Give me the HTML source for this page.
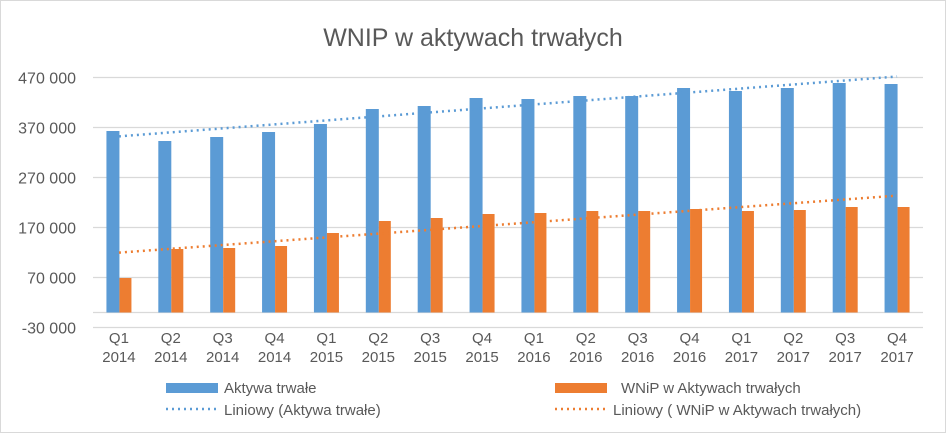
<!DOCTYPE html>
<html><head><meta charset="utf-8"><style>
body{margin:0;background:#fff;}
svg text{font-family:"Liberation Sans",sans-serif;fill:#595959;}
</style></head><body>
<svg id="c" width="946" height="433" xmlns="http://www.w3.org/2000/svg">
<rect x="0.5" y="0.5" width="945" height="432" fill="#fff" stroke="#d9d9d9"/>
<text x="473" y="46" font-size="25" text-anchor="middle">WNIP w aktywach trwałych</text>
<g id="grid"></g><g id="bars"></g><g id="trend"></g><g id="xl"></g><g id="yl"></g>
<g>
<rect x="166" y="383" width="52" height="10" fill="#5b9bd5"/>
<text x="224" y="393" font-size="15">Aktywa trwałe</text>
<rect x="555" y="383" width="52" height="10" fill="#ed7d31"/>
<text x="621" y="393" font-size="15">WNiP w Aktywach trwałych</text>
<line x1="166" y1="409" x2="216" y2="409" stroke="#5b9bd5" stroke-width="2.5" stroke-dasharray="2 4"/>
<text x="224" y="415" font-size="15">Liniowy (Aktywa trwałe)</text>
<line x1="555" y1="409" x2="605" y2="409" stroke="#ed7d31" stroke-width="2.5" stroke-dasharray="2 4"/>
<text x="613" y="415" font-size="15">Liniowy ( WNiP w Aktywach trwałych)</text>
</g>
</svg>
<script>
const quarters=["Q1","Q2","Q3","Q4","Q1","Q2","Q3","Q4","Q1","Q2","Q3","Q4","Q1","Q2","Q3","Q4"];
const years=["2014","2014","2014","2014","2015","2015","2015","2015","2016","2016","2016","2016","2017","2017","2017","2017"];
const aktywa=[363000,343000,351000,361000,377000,407000,413000,429000,427000,433000,433000,449000,443000,449000,459000,457000];
const wnip=[69000,127000,129000,133000,159000,183000,189000,197000,199000,203000,203000,207000,203000,205000,211000,211000];
const ticks=[-30000,70000,170000,270000,370000,470000];
const tickLabels=["-30 000","70 000","170 000","270 000","370 000","470 000"];
const NS="http://www.w3.org/2000/svg";
const L=93,R=923,yMin=-30000,yMax=470000,yTop=77.5,yBot=327.5;
const cw=(R-L)/quarters.length;
function y(v){return yBot-(v-yMin)/(yMax-yMin)*(yBot-yTop);}
function xc(i){return L+cw*(i+0.5);}
function mk(t,a,p){const e=document.createElementNS(NS,t);for(const k in a)e.setAttribute(k,a[k]);document.getElementById(p).appendChild(e);return e;}
ticks.forEach((t,i)=>{
 const g=mk('line',{x1:L,x2:R,y1:y(t),y2:y(t),stroke:'#d9d9d9','stroke-width':1.3},'grid');
 
 
 const tx=mk('text',{x:76,y:y(t)+6,'font-size':16,'text-anchor':'end'},'yl');tx.textContent=tickLabels[i];
 
 
});
const ax=mk('line',{x1:L,x2:R,y1:y(0),y2:y(0),stroke:'#d9d9d9','stroke-width':1.3},'grid');


quarters.forEach((q,i)=>{
 const c=xc(i);
 const b=mk('rect',{x:c-12.5,y:y(aktywa[i]),width:13,height:y(0)-y(aktywa[i]),fill:'#5b9bd5'},'bars');
 
 
 const o=mk('rect',{x:c+0.5,y:y(wnip[i]),width:12,height:y(0)-y(wnip[i]),fill:'#ed7d31'},'bars');
 
 
 const t1=mk('text',{x:c,y:343,'font-size':15,'text-anchor':'middle'},'xl');t1.textContent=q;
 
 
 const t2=mk('text',{x:c,y:362,'font-size':15,'text-anchor':'middle'},'xl');t2.textContent=years[i];
 
 
});
function trend(arr,col,name){
 const n=arr.length;let sx=0,sy=0,sxy=0,sxx=0;
 arr.forEach((v,i)=>{sx+=i;sy+=v;sxy+=i*v;sxx+=i*i;});
 const m=(n*sxy-sx*sy)/(n*sxx-sx*sx),b=(sy-m*sx)/n;
 const l=mk('line',{x1:xc(0),y1:y(b),x2:xc(n-1),y2:y(b+m*(n-1)),stroke:col,'stroke-width':2.5,'stroke-dasharray':'2 4'},'trend');
 
 
}
trend(aktywa,'#5b9bd5','trendline-aktywa');
trend(wnip,'#ed7d31','trendline-wnip');
</script>
</body></html>
